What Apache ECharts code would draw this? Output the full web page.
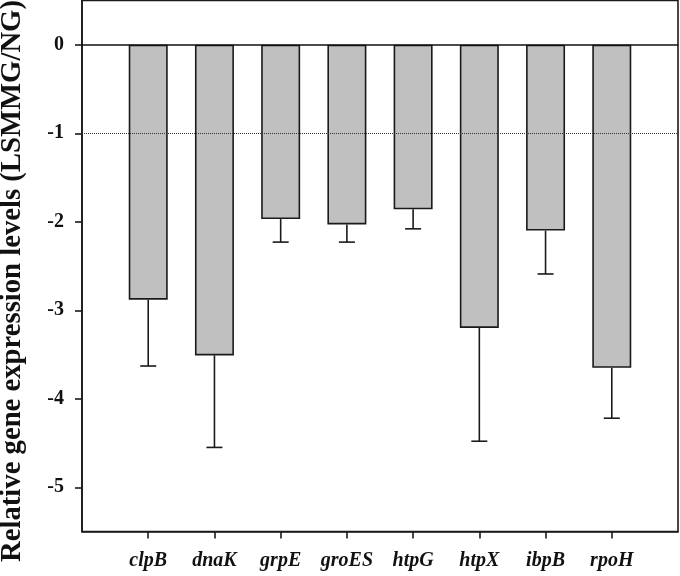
<!DOCTYPE html>
<html>
<head>
<meta charset="utf-8">
<script src="https://cdn.jsdelivr.net/npm/echarts@6/dist/echarts.min.js"></script>
<style>
  html, body { margin: 0; padding: 0; background: #fff; }
  #chart { width: 680px; height: 576px; }
</style>
</head>
<body>
<div id="chart"></div>
<script>
const genes = ["clpB", "dnaK", "grpE", "groES", "htpG", "htpX", "ibpB", "rpoH"];
const means = [-2.88, -3.51, -1.97, -2.03, -1.86, -3.20, -2.10, -3.65];
const lowerErr = [-3.63, -4.55, -2.23, -2.23, -2.08, -4.48, -2.59, -4.22];
const yTicks = [0, -1, -2, -3, -4, -5];
const xTicks = [0, 1, 2, 3, 4, 5, 6, 7];

const serif = "Liberation Serif, Times New Roman, serif";
const chart = echarts.init(document.getElementById("chart"));

chart.setOption({
  animation: false,
  grid: {
    left: 82, right: 2, top: 0.5, bottom: 44.5,
    containLabel: false,
    outerBoundsMode: "none",
    show: true, borderColor: "#1a1a1a", borderWidth: 1.6, backgroundColor: "#fff"
  },
  xAxis: {
    type: "value",
    min: -1,
    max: 8,
    splitLine: { show: false },
    axisLine: { onZero: false, lineStyle: { color: "#1a1a1a", width: 1.6 } },
    axisTick: { show: true, length: 7, customValues: xTicks, lineStyle: { color: "#1a1a1a", width: 1.6 } },
    axisLabel: {
      customValues: xTicks,
      margin: 19,
      formatter: (v) => genes[v] || "",
      fontFamily: serif, fontSize: 20, fontWeight: "bold", fontStyle: "italic", color: "#111"
    }
  },
  yAxis: {
    type: "value",
    min: -5.5,
    max: 0.5,
    name: "Relative gene expression levels (LSMMG/NG)",
    nameLocation: "middle",
    nameRotate: 90,
    nameGap: 55,
    nameTextStyle: { fontFamily: serif, fontSize: 28.7, fontWeight: "bold", color: "#111", padding: [0, 30, 0, 0] },
    splitLine: { show: false },
    axisLine: { onZero: false, lineStyle: { color: "#1a1a1a", width: 1.6 } },
    axisTick: { show: true, length: 7, customValues: yTicks, lineStyle: { color: "#1a1a1a", width: 1.6 } },
    axisLabel: {
      customValues: yTicks,
      margin: 18,
      fontFamily: serif, fontSize: 20, fontWeight: "bold", color: "#111"
    }
  },
  series: [
    {
      type: "bar",
      barWidth: 39,
      data: means.map((v, i) => [i, v]),
      itemStyle: { color: "#c0c0c0", borderColor: "#1a1a1a", borderWidth: 1.6 },
      markLine: {
        silent: true,
        symbol: "none",
        label: { show: false },
        data: [
          { yAxis: 0, lineStyle: { type: "solid", color: "#111", width: 1.6 } },
          { yAxis: -1, lineStyle: { type: [1, 1], color: "#333", width: 1 } }
        ]
      }
    },
    {
      type: "custom",
      data: means.map((v, i) => [i, v, lowerErr[i]]),
      renderItem: function (params, api) {
        const top = api.coord([api.value(0), api.value(1)]);
        const bot = api.coord([api.value(0), api.value(2)]);
        const half = 8;
        const style = { stroke: "#1a1a1a", lineWidth: 1.6 };
        return {
          type: "group",
          children: [
            { type: "line", shape: { x1: top[0], y1: top[1], x2: bot[0], y2: bot[1] }, style: style },
            { type: "line", shape: { x1: bot[0] - half, y1: bot[1], x2: bot[0] + half, y2: bot[1] }, style: style }
          ]
        };
      }
    }
  ]
});
</script>
</body>
</html>
